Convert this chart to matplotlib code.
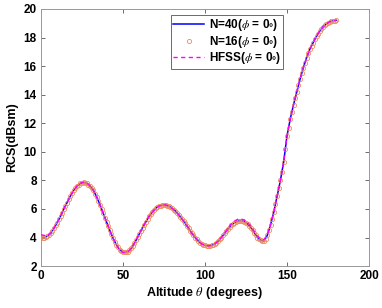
import matplotlib
matplotlib.use("Agg")
import matplotlib.pyplot as plt

theta = list(range(0, 181, 2))
n40 = [4.0, 4.0, 4.1, 4.3, 4.65, 5.05, 5.5, 6.0, 6.45, 6.9,
       7.3, 7.6, 7.8, 7.85, 7.8, 7.6, 7.3, 6.85, 6.3, 5.7,
       5.1, 4.5, 3.95, 3.5, 3.15, 2.98, 2.97, 3.1, 3.4, 3.8,
       4.25, 4.7, 5.1, 5.5, 5.8, 6.05, 6.2, 6.27, 6.27, 6.2,
       6.05, 5.85, 5.6, 5.3, 5.0, 4.65, 4.3, 4.0, 3.75, 3.55,
       3.45, 3.42, 3.45, 3.55, 3.75, 4.0, 4.3, 4.6, 4.85, 5.05,
       5.15, 5.18, 5.12, 4.95, 4.7, 4.35, 4.0, 3.8, 3.75, 4.15,
       4.9, 5.8, 6.9, 8.0, 9.3, 11.1, 12.3, 13.3, 14.2, 15.1,
       15.9, 16.6, 17.2, 17.65, 18.1, 18.45, 18.75, 18.95, 19.1, 19.17,
       19.2]

theta16 = list(range(0, 181, 1))
n16 = [4.02, 4.0, 4.0, 4.05, 4.12, 4.2, 4.3, 4.47, 4.66, 4.85,
       5.05, 5.27, 5.5, 5.75, 6.0, 6.22, 6.45, 6.68, 6.9, 7.1,
       7.3, 7.45, 7.6, 7.7, 7.8, 7.84, 7.86, 7.84, 7.8, 7.7,
       7.6, 7.45, 7.3, 7.08, 6.85, 6.58, 6.3, 6.0, 5.7, 5.4,
       5.1, 4.8, 4.5, 4.22, 3.95, 3.72, 3.5, 3.32, 3.15, 3.05,
       2.99, 2.96, 2.97, 3.02, 3.1, 3.24, 3.4, 3.6, 3.8, 4.02,
       4.25, 4.48, 4.7, 4.9, 5.1, 5.3, 5.5, 5.66, 5.8, 5.93,
       6.05, 6.13, 6.2, 6.24, 6.27, 6.28, 6.27, 6.24, 6.2, 6.13,
       6.05, 5.95, 5.85, 5.73, 5.6, 5.45, 5.3, 5.15, 5.0, 4.83,
       4.65, 4.47, 4.3, 4.15, 4.0, 3.87, 3.75, 3.65, 3.55, 3.5,
       3.45, 3.43, 3.42, 3.43, 3.45, 3.5, 3.55, 3.65, 3.75, 3.87,
       4.0, 4.15, 4.3, 4.45, 4.6, 4.73, 4.85, 4.95, 5.05, 5.1,
       5.15, 5.17, 5.18, 5.16, 5.12, 5.04, 4.95, 4.83, 4.7, 4.53,
       4.35, 4.17, 4.0, 3.88, 3.8, 3.76, 3.75, 3.88, 4.15, 4.5,
       4.9, 5.33, 5.8, 6.33, 6.9, 7.45, 8.0, 8.62, 9.3, 10.2,
       11.1, 11.7, 12.3, 12.8, 13.3, 13.75, 14.2, 14.65, 15.1, 15.5,
       15.9, 16.25, 16.6, 16.9, 17.2, 17.43, 17.65, 17.88, 18.1, 18.28,
       18.45, 18.6, 18.75, 18.85, 18.95, 19.03, 19.1, 19.14, 19.17, 19.19,
       19.2]

hfss = [4.2, 4.15, 4.15, 4.3, 4.65, 5.05, 5.5, 6.0, 6.45, 6.9,
        7.3, 7.6, 7.8, 7.87, 7.82, 7.62, 7.3, 6.85, 6.3, 5.7,
        5.1, 4.5, 3.95, 3.5, 3.12, 2.95, 2.95, 3.1, 3.4, 3.8,
        4.25, 4.7, 5.1, 5.5, 5.8, 6.05, 6.2, 6.28, 6.28, 6.2,
        6.05, 5.85, 5.6, 5.3, 5.0, 4.65, 4.3, 4.0, 3.75, 3.55,
        3.45, 3.42, 3.45, 3.55, 3.75, 4.0, 4.3, 4.65, 4.95, 5.15,
        5.28, 5.3, 5.22, 5.05, 4.8, 4.45, 4.1, 3.9, 3.85, 4.2,
        4.9, 5.8, 6.9, 8.0, 9.3, 11.1, 12.3, 13.3, 14.2, 15.1,
        15.9, 16.6, 17.2, 17.65, 18.1, 18.45, 18.75, 18.95, 19.1, 19.17,
        19.2]

xticks = [0, 50, 100, 150, 200]
yticks = [2, 4, 6, 8, 10, 12, 14, 16, 18, 20]

plt.rcParams['font.family'] = ['Liberation Sans', 'DejaVu Sans']
plt.rcParams['mathtext.fontset'] = 'stix'

fig = plt.figure(figsize=(3.82, 3.08), dpi=100)
ax = fig.add_axes([0.107, 0.136, 0.859, 0.835])

ax.plot(theta, n40, '-', color='#0000FF', lw=1.1, label='N=40($\\phi$ = 0$\\circ$)', zorder=2)
ax.plot(theta16, n16, 'o', color='#EE8A60', mfc='none', ms=3.0, mew=0.6,
        label='N=16($\\phi$ = 0$\\circ$)', zorder=3)
ax.plot(theta, hfss, '--', color='#FF00FF', lw=1.0, dashes=(3, 2.5),
        label='HFSS($\\phi$ = 0$\\circ$)', zorder=4)

ax.set_xlim(0, 200)
ax.set_ylim(2, 20)
ax.set_xticks(xticks)
ax.set_yticks(yticks)
ax.tick_params(direction='in', length=3, width=0.6, color='#555555', labelsize=8.5,
               top=True, right=True, pad=3)
for lab in ax.get_xticklabels() + ax.get_yticklabels():
    lab.set_fontweight('bold')
for sp in ax.spines.values():
    sp.set_color('#999999')
    sp.set_linewidth(0.7)

ax.set_xlabel('Altitude $\\theta$ (degrees)', fontsize=9, fontweight='bold', labelpad=2)
ax.set_ylabel('RCS(dBsm)', fontsize=9, fontweight='bold', labelpad=4)

leg = ax.legend(loc='upper left', bbox_to_anchor=(0.396, 0.977),
                frameon=True, fancybox=False, edgecolor='#444444', handlelength=2.6,
                borderaxespad=0, borderpad=0.2, labelspacing=0.05, handletextpad=0.4,
                prop={'weight': 'bold', 'size': 8.5})
leg.get_frame().set_linewidth(0.7)

fig.savefig('out.png', dpi=100)
